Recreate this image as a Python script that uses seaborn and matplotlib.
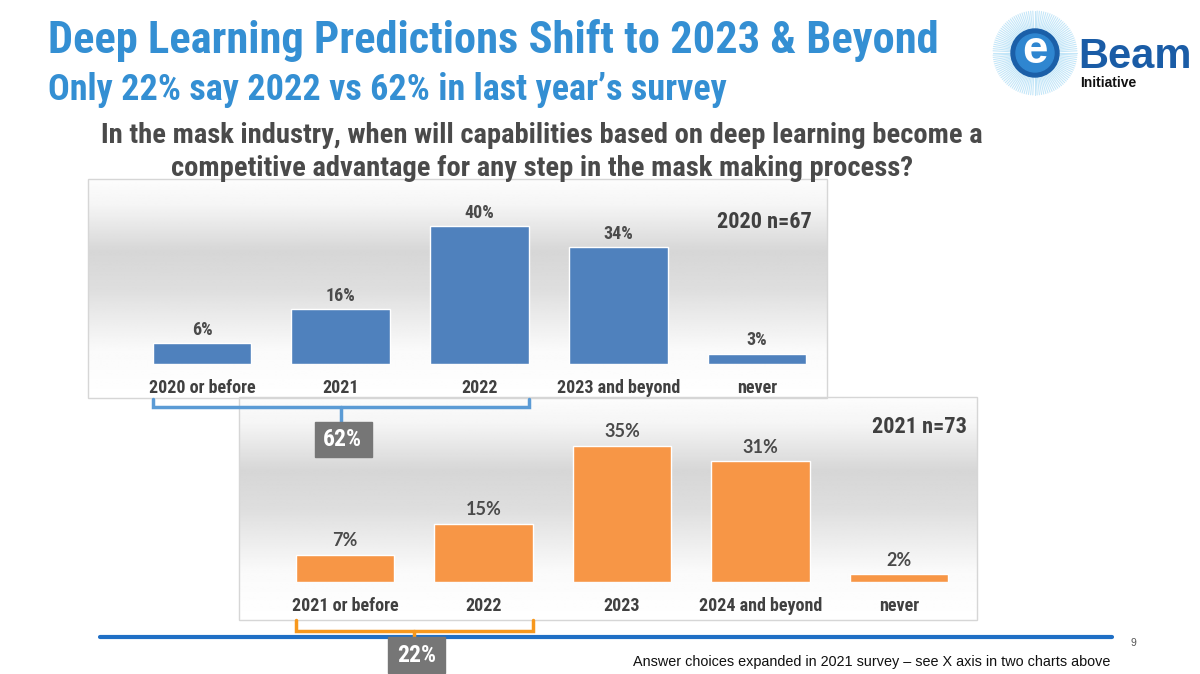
import numpy as np
import matplotlib
matplotlib.use("Agg")
import matplotlib.pyplot as plt
import seaborn as sns
from matplotlib import font_manager
from matplotlib.patches import Rectangle, Circle

# survey answers, 2020 survey (n=67) and 2021 survey (n=73)
cats_2020 = ["2020 or before", "2021", "2022", "2023 and beyond", "never"]
vals_2020 = [6, 16, 40, 34, 3]
cats_2021 = ["2021 or before", "2022", "2023", "2024 and beyond", "never"]
vals_2021 = [7, 15, 35, 31, 2]
n_2020 = "2020 n=67"
n_2021 = "2021 n=73"

title = "Deep Learning Predictions Shift to 2023 & Beyond"
subtitle = "Only 22% say 2022 vs 62% in last year\u2019s survey"
question = ["In the mask industry, when will capabilities based on deep learning become a",
            "competitive advantage for any step in the mask making process?"]
footnote = "Answer choices expanded in 2021 survey \u2013 see X axis in two charts above"

sns.set_theme(style="white")
installed = {f.name for f in font_manager.fontManager.ttflist}
NARROW = next((f for f in ["Liberation Sans Narrow", "Arial Narrow", "Roboto Condensed"]
               if f in installed), "Liberation Sans")
plt.rcParams["font.family"] = [NARROW, "DejaVu Sans"]
ARIAL = ["Liberation Sans", "DejaVu Sans"]

W, H = 1200, 674
fig = plt.figure(figsize=(W / 100, H / 100), dpi=100)
bg = fig.add_axes([0, 0, 1, 1])
bg.axis("off")


def frac(x0, y0, x1, y1):
    return [x0 / W, 1 - y1 / H, (x1 - x0) / W, (y1 - y0) / H]


def panel(x0, y0, x1, y1):
    t = np.linspace(0, 1, 200)
    g = np.interp(t, [0, 0.12, 0.33, 0.5, 0.78, 1], [0.99, 0.96, 0.84, 0.87, 0.98, 1.0])
    img = np.repeat(g[:, None], 2, axis=1)
    bg.imshow(img, cmap="gray", vmin=0, vmax=1, extent=[x0, x1, y1, y0],
              aspect="auto", zorder=1, interpolation="bilinear")
    bg.add_patch(Rectangle((x0, y0), x1 - x0, y1 - y0, fill=False, ec="#d6d6d6", lw=1, zorder=2))


panel(88, 179, 827, 398)
panel(239, 397, 977, 620)
bg.set_xlim(0, W)
bg.set_ylim(H, 0)


def bar_chart(rect, cats, vals, color, ymax, label_family, label_pad):
    ax = fig.add_axes(rect)
    sns.barplot(x=cats, y=vals, ax=ax, color=color, saturation=1, width=0.71)
    ax.set_xlim(-0.5, 4.5)
    ax.set_ylim(0, ymax)
    ax.patch.set_alpha(0)
    for s in ax.spines.values():
        s.set_visible(False)
    ax.set_yticks([])
    ax.set_xlabel("")
    ax.set_ylabel("")
    ax.tick_params(axis="x", length=0, pad=11, labelsize=13, labelcolor="#404040")
    for lab in ax.get_xticklabels():
        lab.set_fontweight("bold")
    ax.bar_label(ax.containers[0], labels=[f"{v}%" for v in vals], padding=label_pad,
                 fontsize=13, fontweight="bold", color="#4a4a4a", family=label_family)
    return ax


ax1 = bar_chart(frac(132.6, 208.75, 826.4, 364), cats_2020, vals_2020, "#4F81BD", 45,
                [NARROW, "DejaVu Sans"], 3)
ax2 = bar_chart(frac(275.75, 426.4, 968.25, 582), cats_2021, vals_2021, "#F79646", 40,
                ["Lato", "DejaVu Sans"], 4)

bg.text(812, 222, n_2020, fontsize=16, fontweight="bold", color="#404040", ha="right", va="center")
bg.text(967, 427, n_2021, fontsize=16, fontweight="bold", color="#404040", ha="right", va="center")


def bracket(ax, i0, i1, y_top, y_bar, y_box, box_h, color, text):
    to_bg = ax.transData + bg.transData.inverted()
    p0, p1 = ax.patches[i0], ax.patches[i1]
    xl = to_bg.transform((p0.get_x(), 0))[0]
    xr = to_bg.transform((p1.get_x() + p1.get_width(), 0))[0]
    xm = (xl + xr) / 2
    bg.plot([xl, xl, xr, xr], [y_top, y_bar, y_bar, y_top], color=color, lw=2.5,
            solid_joinstyle="miter", zorder=5)
    bg.plot([xm, xm], [y_bar, y_box], color=color, lw=2.5, zorder=5)
    bg.add_patch(Rectangle((xm - 26, y_box), 57, box_h, color="#767676", zorder=6))
    bg.text(xm + 2, y_box + box_h / 2, text, color="white", fontsize=17, fontweight="bold",
            ha="center", va="center", zorder=7)


bracket(ax1, 0, 2, 399, 407, 422, 35, "#5B9BD5", f"{sum(vals_2020[:3])}%")
bracket(ax2, 0, 1, 620, 631, 637, 36, "#F7981D", f"{sum(vals_2021[:2])}%")

# slide chrome
bg.plot([100, 1112], [636.5, 636.5], color="#1F6FC5", lw=3, zorder=4)
bg.text(1133, 643, "9", fontsize=7.5, color="#555555", ha="center", va="center", family=ARIAL)
bg.text(1110, 662, footnote, fontsize=10.4, color="#111111", ha="right", va="center", family=ARIAL)

bg.text(48, 53, title, fontsize=32, fontweight="bold", color="#348FD3", va="baseline")
bg.text(48, 100, subtitle, fontsize=26, fontweight="bold", color="#348FD3", va="baseline")
bg.text(542, 143, question[0], fontsize=20.5, fontweight="bold", color="#4a4a4a",
        ha="center", va="baseline")
bg.text(542, 176, question[1], fontsize=20.5, fontweight="bold", color="#4a4a4a",
        ha="center", va="baseline")

# eBeam logo
cx, cy = 1035, 53
for a in np.linspace(0, 2 * np.pi, 120, endpoint=False):
    bg.plot([cx + 22 * np.cos(a), cx + 42 * np.cos(a)], [cy + 22 * np.sin(a), cy + 42 * np.sin(a)],
            color="#9dd6f4", lw=0.8, alpha=0.6, zorder=3)
bg.add_patch(Circle((cx, cy), 24, color="#1B5FA8", zorder=4))
bg.add_patch(Circle((cx, cy), 19, color="#2F86D0", zorder=4))
bg.text(cx, cy - 2, "e", fontsize=33, fontweight="bold", color="white", ha="center", va="center",
        family=ARIAL, zorder=5)
bg.text(1078, 68, "Beam", fontsize=30, fontweight="bold", color="#1A5CA6", va="baseline",
        family=ARIAL)
bg.text(1080, 87, "Initiative", fontsize=10, fontweight="bold", color="#111111", va="baseline",
        family=ARIAL)

fig.savefig("out.png", dpi=100)
